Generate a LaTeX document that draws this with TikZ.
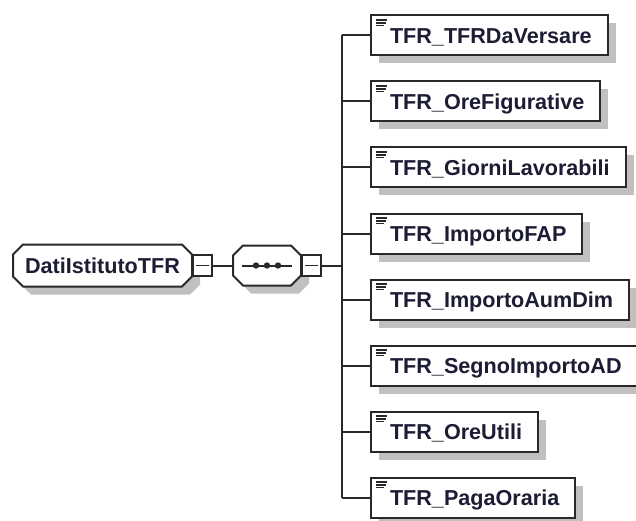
\documentclass[tikz,border=0pt]{standalone}
\usepackage{fontspec}
\setmainfont{Liberation Sans}
\usepackage{xcolor}
\usetikzlibrary{shadows,positioning,calc}

\definecolor{labelink}{RGB}{28,28,52}
\definecolor{edgegray}{RGB}{40,40,40}
\definecolor{shadegray}{RGB}{192,192,192}

% chamfered frame: centre (#1,#2), half width #3, half height #4
\newcommand{\octframe}[4]{(#1-#3+10,#2-#4) -- (#1+#3-10,#2-#4) -- (#1+#3,#2-#4+10) -- (#1+#3,#2+#4-10) -- (#1+#3-10,#2+#4) -- (#1-#3+10,#2+#4) -- (#1-#3,#2+#4-10) -- (#1-#3,#2-#4+10) -- cycle}

\tikzset{
    schemashadow/.style={drop shadow={shadow xshift=8pt, shadow yshift=-8pt, fill=shadegray, opacity=1}},
    labelfont/.style={font=\fontsize{21.6}{26}\selectfont\bfseries, text=labelink, text height=20pt, text depth=4pt},
    elembox/.style={draw=edgegray, line width=2pt, fill=white, rectangle, schemashadow,
        minimum height=40, inner xsep=0pt, anchor=west, labelfont,
        execute at begin node=\hspace*{19pt}, execute at end node=\hspace*{16pt},
        path picture={
            \foreach \k/\l in {0/11,1/9.5,2/8}
                \draw[line width=1.5pt, edgegray] ([xshift=5pt,yshift={-(4.5+2.8*\k)*1pt}]path picture bounding box.north west) -- ++(\l,0);
        }},
    groupbox/.style={rectangle, inner sep=0pt},
    groupline/.style={draw=edgegray, line width=2pt, fill=white},
    minusbox/.style={draw=edgegray, line width=2pt, fill=white, rectangle, inner sep=0pt,
        minimum width=19, minimum height=21,
        path picture={\draw[line width=1.8pt, edgegray] ([xshift=3pt]path picture bounding box.west) -- ([xshift=-3pt]path picture bounding box.east);}},
    link/.style={line width=2pt, edgegray}
}

\begin{document}
\begin{tikzpicture}[x=1pt, y=-1pt]
    \useasboundingbox (0,0) rectangle (636,521);

    % Group frames: root element and sequence
    \fill[shadegray] \octframe{110.5}{273.5}{89.5}{21};
    \draw[groupline] \octframe{102.5}{265.5}{89.5}{21};
    \fill[shadegray] \octframe{275}{273.5}{34}{20};
    \draw[groupline] \octframe{267}{265.5}{34}{20};

    \node[groupbox, minimum width=179, minimum height=42, labelfont] (root) at (102.5,265.5) {DatiIstitutoTFR};
    \node[minusbox, anchor=west] (rootminus) at (root.east) {};

    \node[groupbox, minimum width=68, minimum height=40] (seq) at (267,265.5) {};
    \draw[link] ([xshift=-25pt]seq.center) -- ([xshift=25pt]seq.center);
    \foreach \d in {-11,0,11}
        \fill[edgegray] ([xshift=\d pt]seq.center) circle (3.2);
    \node[minusbox, anchor=west] (seqminus) at (seq.east) {};
    \draw[link] (rootminus.east) -- (seq.west);

    % Children
    \coordinate (trunk) at (341.5,265.5);
    \foreach \name [count=\i from 0] in {TFRDaVersare,OreFigurative,GiorniLavorabili,ImportoFAP,ImportoAumDim,SegnoImportoAD,OreUtili,PagaOraria}
        \node[elembox] (c\i) at (370,35.5+66*\i) {TFR\_\name};
    \draw[link] (seqminus.east) -- (trunk);
    \draw[link] (trunk |- c0.west) -- (trunk |- c7.west);
    \foreach \i in {0,...,7}
        \draw[link] (trunk |- c\i.west) -- (c\i.west);
\end{tikzpicture}
\end{document}
